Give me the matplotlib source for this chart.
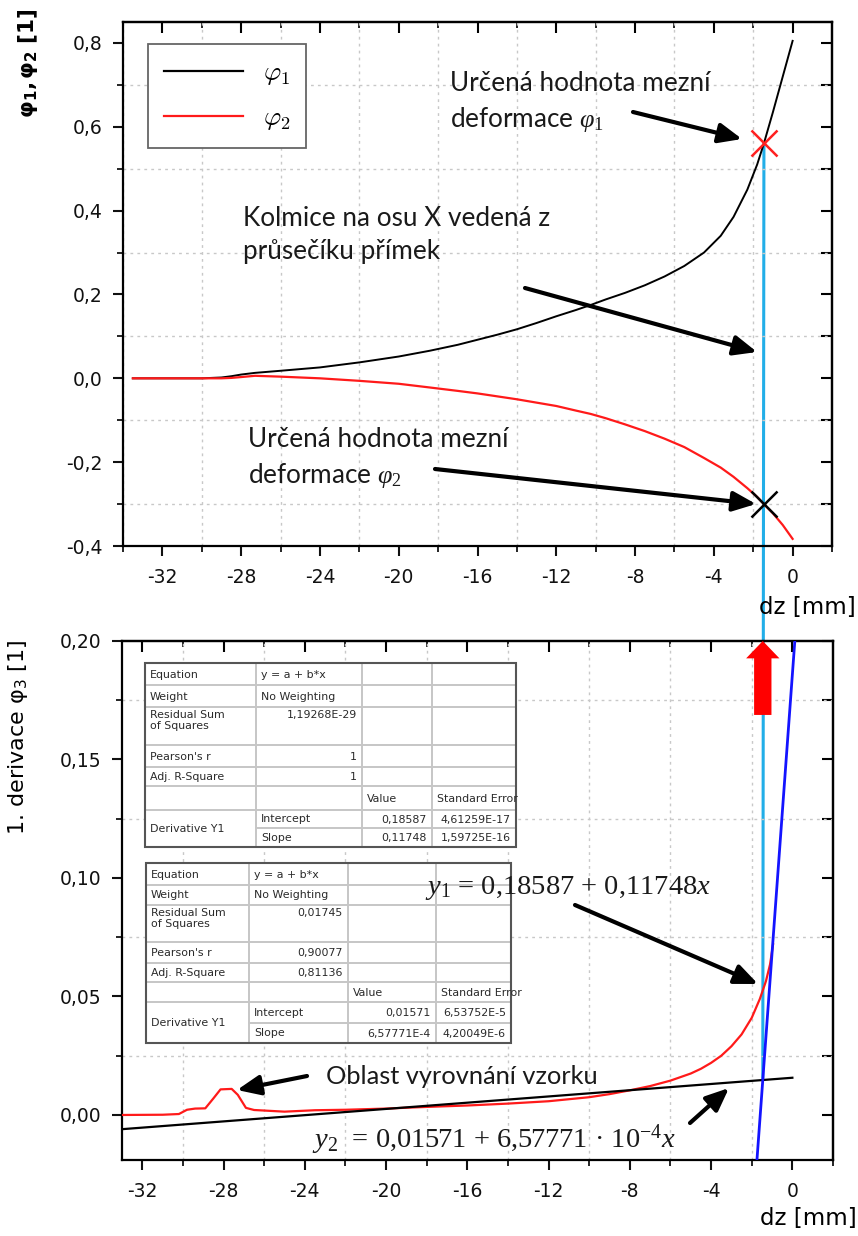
import numpy as np
import matplotlib
matplotlib.use("Agg")
import matplotlib.pyplot as plt
from matplotlib.patches import ConnectionPatch, Rectangle
from matplotlib.lines import Line2D
from matplotlib.ticker import MultipleLocator, FuncFormatter
from matplotlib.font_manager import FontProperties

plt.rcParams['font.family'] = ['DejaVu Sans']
plt.rcParams['mathtext.fontset'] = 'custom'
plt.rcParams['mathtext.rm'] = 'Liberation Serif'
plt.rcParams['mathtext.it'] = 'Liberation Serif:italic'
plt.rcParams['mathtext.bf'] = 'Liberation Serif:bold'

# ---------------- data ----------------
dz_phi = [-33.5, -32.0, -30.0, -29.0, -28.5, -28.0, -27.3, -26.0, -24.0, -22.0,
          -20.0, -18.4, -17.0, -16.0, -15.0, -14.0, -13.0, -12.0, -11.0, -10.25,
          -9.5, -8.5, -7.5, -6.5, -5.5, -4.5, -3.65, -3.0, -2.3, -1.8,
          -1.46, -1.0, -0.5, 0.0]
phi1 = [0.000, 0.000, 0.000, 0.002, 0.005, 0.009, 0.013, 0.018, 0.026, 0.038,
        0.052, 0.066, 0.080, 0.092, 0.104, 0.117, 0.132, 0.148, 0.163, 0.175,
        0.188, 0.204, 0.222, 0.243, 0.268, 0.300, 0.340, 0.385, 0.450, 0.510,
        0.560, 0.635, 0.720, 0.805]
phi2 = [0.000, 0.000, 0.000, 0.000, 0.001, 0.003, 0.006, 0.004, 0.000, -0.006,
        -0.013, -0.022, -0.030, -0.036, -0.043, -0.050, -0.058, -0.066, -0.077, -0.085,
        -0.095, -0.110, -0.126, -0.144, -0.164, -0.190, -0.213, -0.235, -0.262, -0.283,
        -0.300, -0.322, -0.350, -0.383]

dz_der = [-33.0, -31.0, -30.2, -29.8, -29.4, -28.9, -28.5, -28.15, -27.6, -27.3,
          -26.9, -26.5, -25.0, -23.5, -22.0, -20.0, -18.0, -16.0, -14.0, -12.0,
          -10.0, -9.0, -8.0, -7.0, -6.0, -5.0, -4.5, -4.0, -3.5, -3.0,
          -2.5, -2.0, -1.6, -1.3, -1.1, -0.95]
der = [0.0000, 0.0001, 0.0004, 0.0022, 0.0027, 0.0028, 0.0070, 0.0108, 0.0110, 0.0085,
       0.0030, 0.0021, 0.0014, 0.0020, 0.0022, 0.0027, 0.0034, 0.0040, 0.0048, 0.0058,
       0.0075, 0.0088, 0.0104, 0.0122, 0.0145, 0.0175, 0.0195, 0.0220, 0.0250, 0.0290,
       0.0340, 0.0410, 0.0490, 0.0565, 0.0635, 0.0720]

fit1_a, fit1_b = 0.18587, 0.11748        # steep part of the derivative
fit2_a, fit2_b = 0.01571, 6.57771e-4     # flat part of the derivative

table1_rows = [
    ["Equation", "y = a + b*x", "", ""],
    ["Weight", "No Weighting", "", ""],
    ["Residual Sum\nof Squares", "1,19268E-29", "", ""],
    ["Pearson's r", "1", "", ""],
    ["Adj. R-Square", "1", "", ""],
    ["", "", "Value", "Standard Error"],
    ["Derivative Y1", "Intercept", "0,18587", "4,61259E-17"],
    ["", "Slope", "0,11748", "1,59725E-16"],
]
table2_rows = [
    ["Equation", "y = a + b*x", "", ""],
    ["Weight", "No Weighting", "", ""],
    ["Residual Sum\nof Squares", "0,01745", "", ""],
    ["Pearson's r", "0,90077", "", ""],
    ["Adj. R-Square", "0,81136", "", ""],
    ["", "", "Value", "Standard Error"],
    ["Derivative Y1", "Intercept", "0,01571", "6,53752E-5"],
    ["", "Slope", "6,57771E-4", "4,20049E-6"],
]

# ---------------- figure ----------------
W, H = 858, 1236
fig = plt.figure(figsize=(W / 100, H / 100), dpi=100)


def px_axes(l, t, r, b):
    return fig.add_axes([l / W, 1 - b / H, (r - l) / W, (b - t) / H])


def fp(x, y):
    return (x / W, 1 - y / H)


ax1 = px_axes(123, 22, 832, 546)
ax2 = px_axes(122, 641, 833, 1160)

TICK_FS = 13.5
GRID = dict(color='#c8c8c8', lw=1.0, ls=(0, (2, 3)))


def style_axes(ax, xlim, ylim, ymaj, ymin, ydec):
    ax.set_facecolor('none')
    ax.set_xlim(*xlim)
    ax.set_ylim(*ylim)
    ax.xaxis.set_major_locator(MultipleLocator(4))
    ax.xaxis.set_minor_locator(MultipleLocator(2))
    ax.yaxis.set_major_locator(MultipleLocator(ymaj))
    ax.yaxis.set_minor_locator(MultipleLocator(ymin))
    ax.xaxis.set_major_formatter(FuncFormatter(lambda v, p: f'{v + 0.0:.0f}'))
    ax.yaxis.set_major_formatter(
        FuncFormatter(lambda v, p: f'{v + 0.0:.{ydec}f}'.replace('.', ',')))
    for s in ax.spines.values():
        s.set_linewidth(1.6)
    ax.tick_params(which='major', direction='out', length=7.5, width=1.5,
                   labelsize=TICK_FS, colors='#111111')
    ax.tick_params(which='minor', direction='out', length=4, width=1.2)
    ax.tick_params(axis='y', which='major', pad=7)
    ax.tick_params(axis='x', which='major', pad=8)
    ax.grid(False, which='major')
    ax.grid(True, which='minor', **GRID)
    # mirrored ticks on top and right, pointing inwards
    top = ax.secondary_xaxis('top')
    top.xaxis.set_major_locator(MultipleLocator(4))
    top.xaxis.set_minor_locator(MultipleLocator(2))
    top.tick_params(which='major', direction='in', length=8, width=1.5, labeltop=False)
    top.tick_params(which='minor', direction='in', length=4, width=1.2)
    top.spines['top'].set_linewidth(1.6)
    right = ax.secondary_yaxis('right')
    right.yaxis.set_major_locator(MultipleLocator(ymaj))
    right.yaxis.set_minor_locator(MultipleLocator(ymin))
    right.tick_params(which='both', direction='in', length=8, width=1.5, labelright=False)
    right.spines['right'].set_linewidth(1.6)


style_axes(ax1, (-34, 2), (-0.4, 0.85), 0.2, 0.1, 1)
style_axes(ax2, (-33, 2), (-0.019, 0.20), 0.05, 0.025, 2)

# ---------------- top panel ----------------
ax1.plot(dz_phi, phi1, color='black', lw=1.4)
ax1.plot(dz_phi, phi2, color='#ff1a1a', lw=1.6)

x_cross = (fit2_a - fit1_a) / (fit1_b - fit2_b)
y_cross = fit1_a + fit1_b * x_cross
phi1_lim = np.interp(x_cross, dz_phi, phi1)
phi2_lim = np.interp(x_cross, dz_phi, phi2)

ax1.plot([x_cross], [phi1_lim], marker='x', ms=19, mew=1.8, color='#ff2020',
         ls='none', zorder=5)
ax1.plot([x_cross], [phi2_lim], marker='x', ms=19, mew=1.8, color='black',
         ls='none', zorder=5)

leg_handles = [Line2D([], [], color='black', lw=1.6),
               Line2D([], [], color='#ff1a1a', lw=1.6)]
leg = ax1.legend(leg_handles, [r'$\varphi_1$', r'$\varphi_2$'],
                 loc='upper left', bbox_to_anchor=(0.035, 0.958), borderaxespad=0,
                 prop=FontProperties(size=19, math_fontfamily='cm'),
                 frameon=True, fancybox=False, edgecolor='#666666', framealpha=1,
                 handlelength=3.0, handletextpad=0.75, borderpad=0.6,
                 labelspacing=0.7)
leg.get_frame().set_linewidth(1.3)

ax1.set_ylabel(r'$\mathregular{φ_1, φ_2}$ [1]', loc='top', fontsize=15.5,
               fontweight='bold')
ax1.yaxis.set_label_coords(-0.117, 1.027)
ax1.text(1.034, -0.118, 'dz [mm]', transform=ax1.transAxes, ha='right',
         va='center', fontsize=16.5)

ANN_FONT = dict(family=['Lato', 'DejaVu Sans'], fontsize=18.8, color='#1a1a1a',
                linespacing=1.4, math_fontfamily='custom')
ARROW = dict(arrowstyle='-|>,head_length=0.7,head_width=0.3', lw=3.0,
             color='black', mutation_scale=20, shrinkA=0, shrinkB=0)

fig.text(*fp(450, 71), 'Určená hodnota mezní\ndeformace $\\varphi_1$',
         ha='left', va='top', **ANN_FONT)
fig.text(*fp(243, 206), 'Kolmice na osu X vedená z\nprůsečíku přímek',
         ha='left', va='top', **ANN_FONT)
fig.text(*fp(248, 427), 'Určená hodnota mezní\ndeformace $\\varphi_2$',
         ha='left', va='top', **ANN_FONT)

ax1.annotate('', xy=fp(742, 139), xycoords='figure fraction',
             xytext=fp(633, 112), textcoords='figure fraction', arrowprops=ARROW)
ax1.annotate('', xy=fp(757, 352), xycoords='figure fraction',
             xytext=fp(525, 288), textcoords='figure fraction', arrowprops=ARROW)
ax1.annotate('', xy=fp(756, 504), xycoords='figure fraction',
             xytext=fp(435, 469), textcoords='figure fraction', arrowprops=ARROW)

# ---------------- bottom panel ----------------
ax2.plot(dz_der, der, color='#ff1a1a', lw=1.6, zorder=3)

x2 = np.array([-33.0, 0.0])
ax2.plot(x2, fit2_a + fit2_b * x2, color='black', lw=1.6, zorder=3)
y1_ends = np.array(ax2.get_ylim())
ax2.plot((y1_ends - fit1_a) / fit1_b, y1_ends, color='#1414ff', lw=2.0, zorder=3)

# vertical line from the intersection of both fits up to phi1
con = ConnectionPatch(xyA=(x_cross, phi1_lim), coordsA=ax1.transData,
                      xyB=(x_cross, y_cross), coordsB=ax2.transData,
                      color='#22aee8', lw=2.2, zorder=-1)
fig.add_artist(con)

ax2.annotate('', xy=(x_cross, 0.20), xytext=(x_cross, 0.1688),
             arrowprops=dict(arrowstyle='simple,head_length=1.25,head_width=2.4,tail_width=1.25',
                             color='#ff0000', mutation_scale=10, shrinkA=0, shrinkB=0,
                             lw=0),
             annotation_clip=False, zorder=6)

ax2.set_ylabel(r'1. derivace $\mathregular{φ_3}$ [1]', loc='top', fontsize=16)
ax2.yaxis.set_label_coords(-0.129, 1.002)
ax2.text(1.033, -0.112, 'dz [mm]', transform=ax2.transAxes, ha='right',
         va='center', fontsize=16.5)

EQ_FONT = dict(family=['Liberation Serif', 'DejaVu Serif'], fontsize=20.5,
               color='#1a1a1a', math_fontfamily='custom')
fig.text(*fp(425, 888), '$y_1$ = 0,18587 + 0,11748$x$', ha='left', va='center',
         **EQ_FONT)
fig.text(*fp(312, 1140), '$y_2$  = 0,01571 + 6,57771 · 10$^{-4}$$x$', ha='left',
         va='center', **EQ_FONT)
fig.text(*fp(326, 1077), 'Oblast vyrovnání vzorku', ha='left', va='center',
         **dict(ANN_FONT, fontsize=18.3))

ax2.annotate('', xy=fp(758, 984), xycoords='figure fraction',
             xytext=fp(575, 905), textcoords='figure fraction', arrowprops=ARROW)
ax2.annotate('', xy=fp(237, 1090), xycoords='figure fraction',
             xytext=fp(307, 1076), textcoords='figure fraction', arrowprops=ARROW)
ax2.annotate('', xy=fp(729, 1088), xycoords='figure fraction',
             xytext=fp(690, 1123), textcoords='figure fraction', arrowprops=ARROW)


# ---------------- fit result tables ----------------
def draw_table(rows, col_px, row_px):
    l, r = col_px[0], col_px[-1]
    t, b = row_px[0], row_px[-1]
    tax = px_axes(l, t, r, b)
    tax.set_xlim(l, r)
    tax.set_ylim(b, t)
    tax.set_axis_off()
    tax.add_patch(Rectangle((l, t), r - l, b - t, facecolor='white',
                            edgecolor='none', zorder=0))
    rule = dict(color='#c6c6c6', lw=1.4, zorder=1, clip_on=False)
    n = len(row_px)
    for i in range(1, n - 1):
        x0 = col_px[1] if i == n - 2 else l
        tax.plot([x0, r], [row_px[i], row_px[i]], **rule)
    for x in col_px[1:-1]:
        tax.plot([x, x], [t, b], **rule)
    tax.add_patch(Rectangle((l, t), r - l, b - t, fill=False, edgecolor='#555555',
                            lw=1.5, zorder=2, clip_on=False))
    for i, row in enumerate(rows):
        for j, txt in enumerate(row):
            if not txt:
                continue
            top, bot = row_px[i], row_px[i + 1]
            if j == 0 and i == n - 3:
                bot = row_px[i + 2]
            numeric = txt[0].isdigit()
            x = col_px[j + 1] - 5 if numeric else col_px[j] + 5
            if '\n' in txt or i == 2:
                y, va = top + 3, 'top'
            else:
                y, va = (top + bot) / 2 + 0.5, 'center'
            tax.text(x, y, txt, ha='right' if numeric else 'left', va=va,
                     fontsize=7.9, color='#2a2a2a', linespacing=1.1, zorder=3)


draw_table(table1_rows, [145, 256, 362, 432, 516],
           [663, 685, 707, 745, 767, 786, 810, 828, 847])
draw_table(table2_rows, [146, 249, 348, 436, 511],
           [863, 885, 905, 942, 963, 982, 1002, 1023, 1043])

fig.savefig('out.png', dpi=100, facecolor='white')
